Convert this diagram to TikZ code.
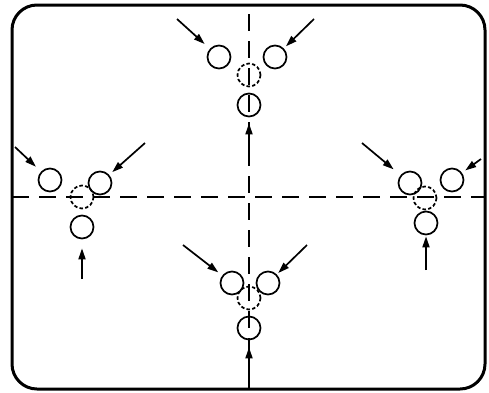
\documentclass[tikz,border=0pt]{standalone}
\usetikzlibrary{arrows.meta}
\begin{document}
\begin{tikzpicture}[x=1pt,y=-1pt,
  ball/.style={circle,draw,line width=1.7pt,minimum size=23pt,inner sep=0pt},
  ghost/.style={ball,dash pattern=on 3.5pt off 2.2pt},
  axis/.style={line width=2pt,dash pattern=on 17pt off 10pt},
  arr/.style={line width=1.7pt,-{Triangle[length=11pt,width=7pt]}},
  frame/.style={line width=3pt,rounded corners=25pt}]
\useasboundingbox (0,0) rectangle (489,392);
\draw[frame] (12,5) rectangle (485,389);
% axes
\coordinate (vt) at (249,14);
\coordinate (vb) at (249,389);
\coordinate (hl) at (12,197);
\coordinate (hr) at (485,197);
\draw[axis] (vt) -- (vb);
\draw[axis] (hl) -- (hr);
% top cluster
\node[ball] (T1) at (219,57) {};
\node[ball] (T2) at (275,57) {};
\node[ghost] (Td) at (249,75) {};
\node[ball] (T3) at (249,105) {};
\coordinate (ta) at (177,19);
\coordinate (tb) at (314,19);
\coordinate (tc) at (249,150);
\draw[arr,shorten >=7pt] (ta) -- (T1);
\draw[arr,shorten >=3pt] (tb) -- (T2);
\draw[arr,shorten >=6pt] (tc) -- (T3);
% left cluster
\node[ball] (L1) at (50,180) {};
\node[ball] (L2) at (100,183) {};
\node[ghost] (Ld) at (82,197) {};
\node[ball] (L3) at (82,227) {};
\coordinate (la) at (15,147);
\coordinate (lb) at (145,143);
\coordinate (lc) at (82,279);
\draw[arr,shorten >=7pt] (la) -- (L1);
\draw[arr,shorten >=4pt] (lb) -- (L2);
\draw[arr,shorten >=9pt] (lc) -- (L3);
% right cluster
\node[ball] (R1) at (410,183) {};
\node[ball] (R2) at (452,180) {};
\node[ghost] (Rd) at (425,198) {};
\node[ball] (R3) at (426,223) {};
\coordinate (ra) at (362,143);
\coordinate (rb) at (481,159);
\coordinate (rc) at (426,270);
\draw[arr,shorten >=9pt] (ra) -- (R1);
\draw[arr,shorten >=4pt] (rb) -- (R2);
\draw[arr,shorten >=1pt] (rc) -- (R3);
% bottom cluster
\node[ball] (B1) at (232,283) {};
\node[ball] (B2) at (268,283) {};
\node[ghost] (Bd) at (249,298) {};
\node[ball] (B3) at (249,328) {};
\coordinate (ba) at (183,245);
\coordinate (bb) at (307,245);
\coordinate (bc) at (249,389);
\draw[arr,shorten >=5pt] (ba) -- (B1);
\draw[arr,shorten >=2pt] (bb) -- (B2);
\draw[arr,shorten >=7pt] (bc) -- (B3);
\end{tikzpicture}
\end{document}
